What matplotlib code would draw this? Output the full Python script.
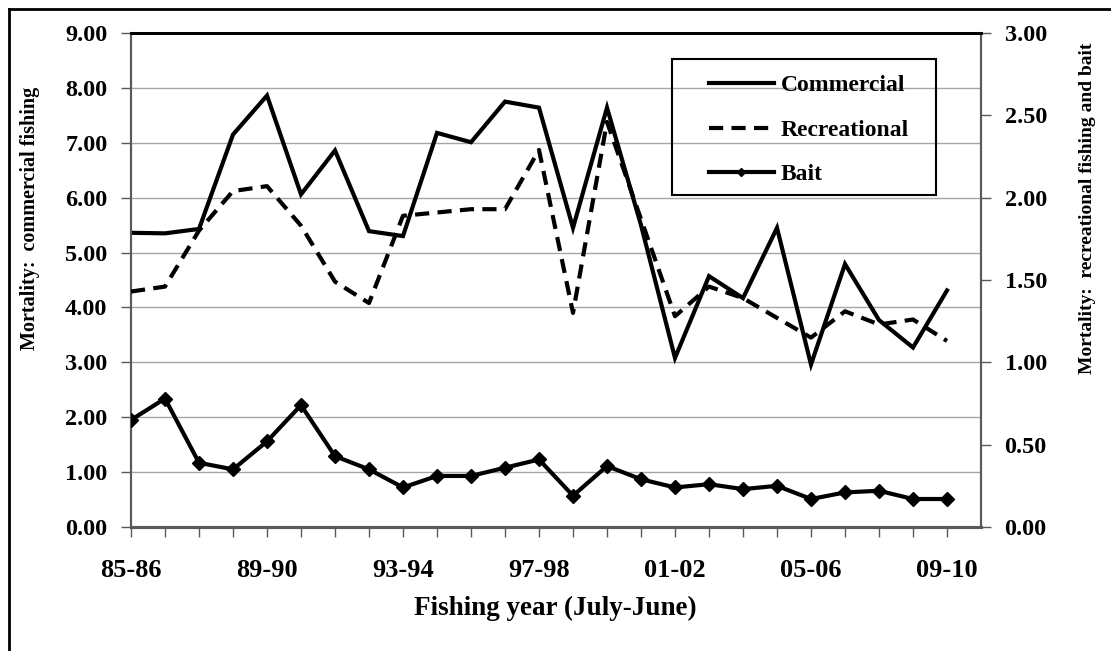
import matplotlib
matplotlib.use("Agg")
import matplotlib.pyplot as plt
from matplotlib.lines import Line2D
from matplotlib.patches import Rectangle

years = ["85-86", "86-87", "87-88", "88-89", "89-90", "90-91", "91-92", "92-93",
         "93-94", "94-95", "95-96", "96-97", "97-98", "98-99", "99-00", "00-01",
         "01-02", "02-03", "03-04", "04-05", "05-06", "06-07", "07-08", "08-09", "09-10"]
commercial = [5.36, 5.35, 5.43, 7.15, 7.86, 6.06, 6.86, 5.39, 5.30, 7.18, 7.01, 7.75, 7.64,
              5.45, 7.64, 5.50, 3.08, 4.57, 4.17, 5.45, 2.96, 4.79, 3.77, 3.27, 4.31]
recreational = [1.43, 1.46, 1.80, 2.04, 2.07, 1.83, 1.49, 1.36, 1.89, 1.91, 1.93, 1.93, 2.29,
                1.30, 2.46, 1.87, 1.28, 1.46, 1.39, 1.27, 1.15, 1.31, 1.23, 1.26, 1.13]
bait = [0.65, 0.78, 0.39, 0.35, 0.52, 0.74, 0.43, 0.35, 0.24, 0.31, 0.31, 0.36, 0.41,
        0.19, 0.37, 0.29, 0.24, 0.26, 0.23, 0.25, 0.17, 0.21, 0.22, 0.17, 0.17]
left_ticks = [0, 1, 2, 3, 4, 5, 6, 7, 8, 9]
right_ticks = [0, 0.5, 1.0, 1.5, 2.0, 2.5, 3.0]

FONT = "Liberation Serif"
plt.rcParams["font.family"] = [FONT, "DejaVu Serif"]
plt.rcParams["font.weight"] = "bold"

W, H = 1111, 651
fig = plt.figure(figsize=(W / 100, H / 100), dpi=100)
L, R, T, B = 131, 981, 33, 527
ax = fig.add_axes([L / W, 1 - B / H, (R - L) / W, (B - T) / H])
ax2 = ax.twinx()

x = list(range(len(years)))
spine_c = "#595959"

ax.plot(x, commercial, color="black", lw=3.0, solid_joinstyle="miter", zorder=3)
ax2.plot(x, recreational, color="black", lw=3.0, dashes=(3.4, 2.0), zorder=3)
ax2.plot(x, bait, color="black", lw=3.0, marker="D", markersize=7.5, zorder=3)

ax.set_xlim(0, 25)
ax.set_ylim(0, 9)
ax2.set_ylim(0, 3)
ax.set_yticks(left_ticks)
ax.set_yticklabels([f"{v:.2f}" for v in left_ticks])
ax2.set_yticks(right_ticks)
ax2.set_yticklabels([f"{v:.2f}" for v in right_ticks])
ax.set_xticks(x)
ax.set_xticklabels([lab if i % 4 == 0 else "" for i, lab in enumerate(years)])

ax.grid(axis="y", color="#a6a6a6", lw=1.0)
ax.set_axisbelow(True)

for a in (ax, ax2):
    for s in a.spines.values():
        s.set_color(spine_c)
        s.set_linewidth(1.5)
    a.spines["top"].set_color("black")
    a.spines["top"].set_linewidth(2.0)
    a.spines["bottom"].set_linewidth(2.2)

ax.tick_params(axis="y", direction="out", length=7, width=1, color=spine_c,
               pad=10, labelsize=17.5)
ax2.tick_params(axis="y", direction="out", length=7, width=1, color=spine_c,
                pad=10, labelsize=17.5)
ax.tick_params(axis="x", direction="out", length=7, width=1, color=spine_c,
               pad=16, labelsize=19)
for lab in ax.get_xticklabels() + ax.get_yticklabels() + ax2.get_yticklabels():
    lab.set_fontweight("bold")

fig.text(555 / W, 1 - 608 / H, "Fishing year (July-June)", ha="center", va="center",
         fontsize=19.5, fontweight="bold")
fig.text(30 / W, 1 - 218 / H, "Mortality:  commercial fishing", ha="center", va="center",
         rotation=90, fontsize=14.5, fontweight="bold")
fig.text(1087 / W, 1 - 208 / H, "Mortality:  recreational fishing and bait", ha="center",
         va="center", rotation=90, fontsize=14, fontweight="bold")

handles = [Line2D([], [], color="black", lw=3.0),
           Line2D([], [], color="black", lw=3.0, dashes=(3.4, 2.0)),
           Line2D([], [], color="black", lw=3.0, marker="D", markersize=4)]
leg = ax2.legend(handles, ["Commercial", "Recreational", "Bait"],
                 loc="upper left", bbox_to_anchor=(697 / W, 1 - 63 / H),
                 bbox_transform=fig.transFigure, frameon=False, borderpad=0,
                 handlelength=2.75, handletextpad=0.3, labelspacing=0.97,
                 prop={"family": FONT, "weight": "bold", "size": 17})
fig.patches.append(Rectangle((672 / W, 1 - 195 / H), (936 - 672) / W, (195 - 59) / H,
                             transform=fig.transFigure, fill=False, edgecolor="black",
                             lw=1.5, zorder=5))

# outer chart border (left and top edges visible)
fig.add_artist(Line2D([9 / W, 9 / W], [0, 1 - 9 / H], transform=fig.transFigure,
                      color="black", lw=2))
fig.add_artist(Line2D([9 / W, 1], [1 - 9 / H, 1 - 9 / H], transform=fig.transFigure,
                      color="black", lw=2))

fig.savefig("out.png", dpi=100, facecolor="white")
